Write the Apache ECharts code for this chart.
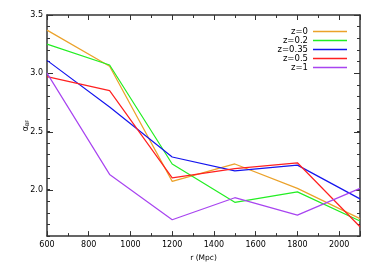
<!DOCTYPE html>
<html><head><meta charset="utf-8">
<script src="https://cdn.jsdelivr.net/npm/echarts@6/dist/echarts.min.js"></script>
<style>html,body{margin:0;padding:0;background:#fff}#c{width:374px;height:267px}</style>
</head><body><div id="c"></div>
<script>
const rValues = [600, 900, 1200, 1500, 1800, 2100];
const seriesNames = ['z=0', 'z=0.2', 'z=0.35', 'z=0.5', 'z=1'];
const z0   = [3.37, 3.06, 2.07, 2.22, 2.01, 1.75];
const z02  = [3.25, 3.07, 2.22, 1.89, 1.98, 1.73];
const z035 = [3.11, 2.71, 2.28, 2.16, 2.21, 1.92];
const z05  = [2.97, 2.85, 2.10, 2.18, 2.23, 1.68];
const z1   = [3.00, 2.13, 1.74, 1.93, 1.78, 2.01];
const yTickLabels = ['2.0', '2.5', '3.0', '3.5'];
const colors = ['#EBA22A', '#22EE22', '#1515EE', '#FF2020', '#A844F0'];
const values = [z0, z02, z035, z05, z1];

const chart = echarts.init(document.getElementById('c'), null, {renderer: 'canvas'});
const axisCol = '#333';
const font = 'DejaVu Sans';
const tick = (len) => ({show: true, inside: true, length: len, lineStyle: {color: axisCol, width: 1}});
const line = {show: true, onZero: false, lineStyle: {color: axisCol, width: 1.5}};
const yMin = 1.6, yMax = 3.5;
const plotTop = 15, plotBottom = 30, H = 267;
// second grid covering 2.0..3.5 with identical scale for the major y ticks
const pxPerUnit = (H - plotTop - plotBottom) / (yMax - yMin);
const majorBottom = plotBottom + (2.0 - yMin) * pxPerUnit;

chart.setOption({
  animation: false,
  textStyle: {fontFamily: font},
  grid: [
    {left: 47, right: 14, top: plotTop, bottom: plotBottom},
    {left: 47, right: 14, top: plotTop, bottom: majorBottom}
  ],
  legend: {
    orient: 'vertical', right: 22, top: 22, align: 'right',
    icon: 'rect', itemWidth: 34, itemHeight: 1.5, itemGap: 0,
    textStyle: {fontFamily: font, fontSize: 8.5, color: '#000', lineHeight: 8.6},
    data: seriesNames.map((n, i) => ({name: n, itemStyle: {color: colors[i]}}))
  },
  xAxis: [
    {type: 'value', gridIndex: 0, min: 600, max: 2100, interval: 200, position: 'bottom',
      axisLine: line, splitLine: {show: false},
      axisTick: tick(5),
      minorTick: {show: true, splitNumber: 2, length: 3, lineStyle: {color: axisCol, width: 1}},
      axisLabel: {fontFamily: font, fontSize: 8, color: '#000', margin: 5,
        formatter: v => (v % 200 === 0 ? String(v) : '')},
      name: 'r (Mpc)', nameLocation: 'middle', nameGap: 15,
      nameTextStyle: {fontFamily: font, fontSize: 7.5, color: '#000'}},
    {type: 'value', gridIndex: 0, min: 600, max: 2100, interval: 200, position: 'top',
      axisLine: line, splitLine: {show: false},
      axisTick: tick(5),
      minorTick: {show: true, splitNumber: 2, length: 3, lineStyle: {color: axisCol, width: 1}},
      axisLabel: {show: false}},
    {type: 'value', gridIndex: 1, min: 600, max: 2100, show: false}
  ],
  yAxis: [
    {type: 'value', gridIndex: 0, min: yMin, max: yMax, interval: 0.1, position: 'left',
      axisLine: line, splitLine: {show: false},
      axisTick: tick(3), axisLabel: {show: false},
      name: 'α{s|BF}', nameLocation: 'middle', nameGap: 17, nameRotate: 90,
      nameTextStyle: {fontFamily: font, fontSize: 8, color: '#000',
        rich: {s: {fontSize: 5, fontFamily: font, color: '#000', verticalAlign: 'bottom', padding: [4, 0, 0, 0]}}}},
    {type: 'value', gridIndex: 0, min: yMin, max: yMax, interval: 0.1, position: 'right',
      axisLine: line, splitLine: {show: false},
      axisTick: tick(3), axisLabel: {show: false}},
    {type: 'value', gridIndex: 1, min: 2.0, max: yMax, interval: 0.5, position: 'left',
      axisLine: {show: false}, splitLine: {show: false},
      axisTick: tick(6),
      axisLabel: {fontFamily: font, fontSize: 8, color: '#000', margin: 4,
        formatter: (v) => yTickLabels.find(t => Math.abs(parseFloat(t) - v) < 1e-6) || ''}},
    {type: 'value', gridIndex: 1, min: 2.0, max: yMax, interval: 0.5, position: 'right',
      axisLine: {show: false}, splitLine: {show: false},
      axisTick: tick(6), axisLabel: {show: false}}
  ],
  series: seriesNames.map((n, i) => ({
    name: n, type: 'line', xAxisIndex: 0, yAxisIndex: 0,
    data: rValues.map((r, j) => [r, values[i][j]]),
    symbol: 'none', color: colors[i],
    lineStyle: {color: colors[i], width: 1.2}
  }))
});
</script></body></html>
